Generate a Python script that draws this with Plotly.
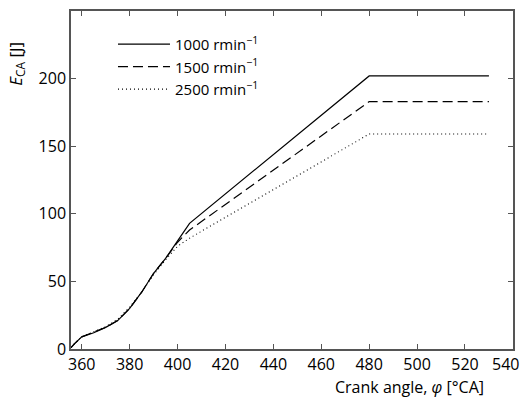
import plotly.graph_objects as go

x_1000 = [355.5, 357, 360, 365, 370, 375, 380, 385, 390, 395, 400, 405, 480, 530]
y_1000 = [1, 4, 9, 12, 16, 21, 30, 42, 56, 67, 80, 93, 202, 202]

x_1500 = [355.5, 357, 360, 365, 370, 375, 380, 385, 390, 395, 400, 405, 480, 530]
y_1500 = [1, 4, 9, 12.5, 16, 21, 30, 42, 56, 67, 79, 88, 183, 183]

x_2500 = [355.5, 357, 360, 365, 370, 375, 380, 385, 390, 395, 400, 405, 480, 530]
y_2500 = [1, 4, 9, 12.5, 16.5, 22, 31, 42, 55, 66, 76, 82, 159, 159]

labels = ["1000 rmin<sup>−1</sup>", "1500 rmin<sup>−1</sup>", "2500 rmin<sup>−1</sup>"]

x_ticks = [360, 380, 400, 420, 440, 460, 480, 500, 520, 540]
x_ticktext = ["360", "380", "400", "420", "440", "460", "480", "500", "520", ""]
last_x_label = "540"
y_ticks = [0, 50, 100, 150, 200, 250]

FONT = "Open Sans"
AX = "#555555"
TICKSIZE = 16

fig = go.Figure()
fig.add_trace(go.Scatter(x=x_1000, y=y_1000, mode="lines", name=labels[0],
                         line=dict(color="black", width=1.2)))
fig.add_trace(go.Scatter(x=x_1500, y=y_1500, mode="lines", name=labels[1],
                         line=dict(color="black", width=1.2, dash="10px,5px")))
fig.add_trace(go.Scatter(x=x_2500, y=y_2500, mode="lines", name=labels[2],
                         line=dict(color="black", width=1.1, dash="1px,3px")))

axis_common = dict(showgrid=False, zeroline=False, showline=True, linecolor=AX, linewidth=1.5,
                   mirror="ticks", ticks="inside", ticklen=5, tickcolor=AX, tickwidth=1.2,
                   automargin=False,
                   tickfont=dict(family=FONT, size=TICKSIZE, color="black"))

fig.update_xaxes(range=[355.5, 540.05], tickvals=x_ticks, ticktext=x_ticktext, **axis_common)
fig.update_yaxes(range=[0, 250.05], tickvals=y_ticks, **axis_common)

fig.update_layout(
    width=522, height=400,
    margin=dict(l=71, r=9, t=11, b=51),
    paper_bgcolor="white", plot_bgcolor="white",
    font=dict(family=FONT, size=15, color="black"),
    showlegend=True,
    legend=dict(x=0.095, y=0.95, xanchor="left", yanchor="top",
                bgcolor="rgba(0,0,0,0)", font=dict(family=FONT, size=15),
                itemwidth=52, tracegroupgap=0),
    annotations=[
        dict(text=last_x_label, xref="paper", yref="paper", x=1, y=0,
             xanchor="right", yanchor="middle", xshift=8, yshift=-15,
             showarrow=False, font=dict(family=FONT, size=TICKSIZE)),
        dict(text="Crank angle, <i>φ</i> [°CA]", xref="paper", yref="paper",
             x=(486 - 71) / 442, y=-0.112, xanchor="right", yanchor="middle",
             showarrow=False, font=dict(family=FONT, size=16)),
        dict(text="<i>E</i><sub>CA</sub> [J]", xref="paper", yref="paper",
             x=-0.125, y=(349 - 64) / 338, xanchor="center", yanchor="middle",
             textangle=-90, showarrow=False, font=dict(family=FONT, size=17)),
    ],
)

fig.write_html("out.html")
